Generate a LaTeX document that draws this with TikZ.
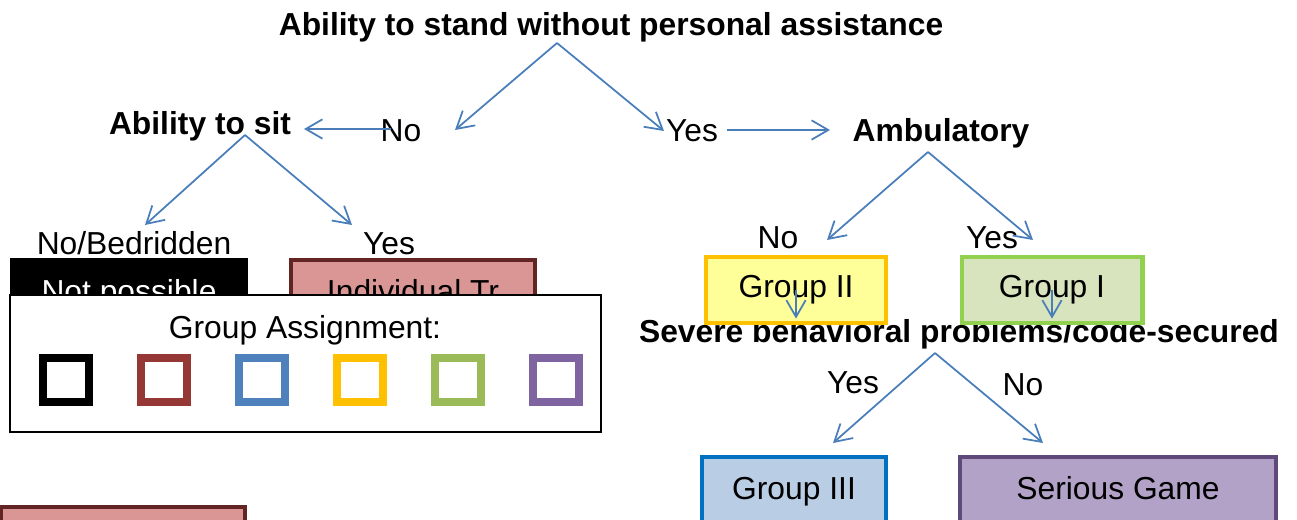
\documentclass[tikz,border=0pt]{standalone}
\usepackage{fontspec}
\setmainfont{Liberation Sans}
\usetikzlibrary{arrows.meta}
\definecolor{arrowblue}{HTML}{4A7EBB}
\definecolor{trainfill}{HTML}{D99694}
\definecolor{trainline}{HTML}{632523}
\definecolor{g1fill}{HTML}{D7E4BD}
\definecolor{g1line}{HTML}{92D050}
\definecolor{g2fill}{HTML}{FFFF99}
\definecolor{g2line}{HTML}{FFC000}
\definecolor{g3fill}{HTML}{B9CDE5}
\definecolor{g3line}{HTML}{0070C0}
\definecolor{gamefill}{HTML}{B3A2C7}
\definecolor{gameline}{HTML}{5F497A}

\begin{document}
\begin{tikzpicture}[x=0.02cm,y=-0.02cm,
    every node/.style={font=\fontsize{18.1}{21}\selectfont,inner sep=0pt},
    ask/.style={anchor=base,font=\fontsize{18.1}{21}\selectfont\bfseries},
    reply/.style={anchor=base},
    arr/.style={arrowblue,line width=1pt,-{Straight Barb[length=9.5pt,width=11pt]}},
    grp/.style={draw=#1,line width=2.3pt,minimum height=1.4cm,text height=12.9pt,text depth=3.8pt},
    key/.style={draw=#1,line width=4pt,minimum width=0.92cm,minimum height=0.88cm}]
\useasboundingbox (0,0) rectangle (1297,520);
\clip (0,0) rectangle (1297,520);

% questions and answers
\node[ask] (stand) at (611,36) {Ability to stand without personal assistance};
\node[reply] (no) at (401,142) {No};
\node[reply] (yes) at (692,142) {Yes};
\node[ask] (sit) at (200,135) {Ability to sit};
\node[ask] (amb) at (941,142) {Ambulatory};
\node[reply] (bed) at (134,254) {No/Bedridden};
\node[reply] (sityes) at (389,254) {Yes};
\node[reply] (ambno) at (778,248) {No};
\node[reply] (ambyes) at (992,248) {Yes};
\node[ask] (sev) at (959,342) {Severe behavioral problems/code-secured};
\node[reply] (sevyes) at (853,393) {Yes};
\node[reply] (sevno) at (1023,395) {No};

\coordinate (standfork) at (557,43);
\coordinate (nohead) at (455,130);
\coordinate (yeshead) at (664,131);
\coordinate (sitin) at (304,129);
\coordinate (noout) at (391,129);
\coordinate (yesout) at (727,130);
\coordinate (ambin) at (830,130);
\coordinate (sitfork) at (245,135);
\coordinate (bedhead) at (145,225);
\coordinate (sityeshead) at (352,225);
\coordinate (ambfork) at (928,152);
\coordinate (ambnohead) at (827,240);
\coordinate (ambyeshead) at (1033,240);
\coordinate (sevfork) at (935,353);
\coordinate (sevyeshead) at (833,443);
\coordinate (sevnohead) at (1043,443);

\draw[arr] (standfork) -- (nohead);
\draw[arr] (standfork) -- (yeshead);
\draw[arr] (noout) -- (sitin);
\draw[arr] (yesout) -- (ambin);
\draw[arr] (sitfork) -- (bedhead);
\draw[arr] (sitfork) -- (sityeshead);
\draw[arr] (ambfork) -- (ambnohead);
\draw[arr] (ambfork) -- (ambyeshead);
\draw[arr] (sevfork) -- (sevyeshead);
\draw[arr] (sevfork) -- (sevnohead);

% outcome boxes
\node[grp=black,fill=black,text=white,minimum width=4.68cm] (np) at (129,295) {Not possible};
\node[grp=trainline,fill=trainfill,minimum width=4.88cm] (indiv) at (413,295) {Individual Tr};
\node[grp=trainline,fill=trainfill,minimum width=4.88cm] (indiv2) at (123,542) {};
\node[grp=g2line,fill=g2fill,minimum width=3.6cm,minimum height=1.32cm] (g2) at (796,290) {Group II};
\node[grp=g1line,fill=g1fill,minimum width=3.62cm,minimum height=1.32cm] (g1) at (1052,290) {Group I};
\node[grp=g3line,fill=g3fill,minimum width=3.68cm] (g3) at (794,492) {Group III};
\node[grp=gameline,fill=gamefill,minimum width=6.32cm] (game) at (1118,492) {Serious Game};

\draw[arr] (g2.center) -- (g2.center |- sev.north);
\draw[arr] (g1.center) -- (g1.center |- sev.north);

% legend
\node[draw=black,fill=white,line width=1.1pt,minimum width=11.82cm,minimum height=2.74cm] (legend) at (305.5,363.5) {};
\node[reply] (legtitle) at (305,338) {Group Assignment:};
\foreach \c [count=\i from 0] in {000000,953735,4F81BD,FFC000,9BBB59,8064A2}{
  \definecolor{keycol}{HTML}{\c}
  \node[key=keycol] (key\i) at (66+98*\i,380) {};
}
\end{tikzpicture}
\end{document}
